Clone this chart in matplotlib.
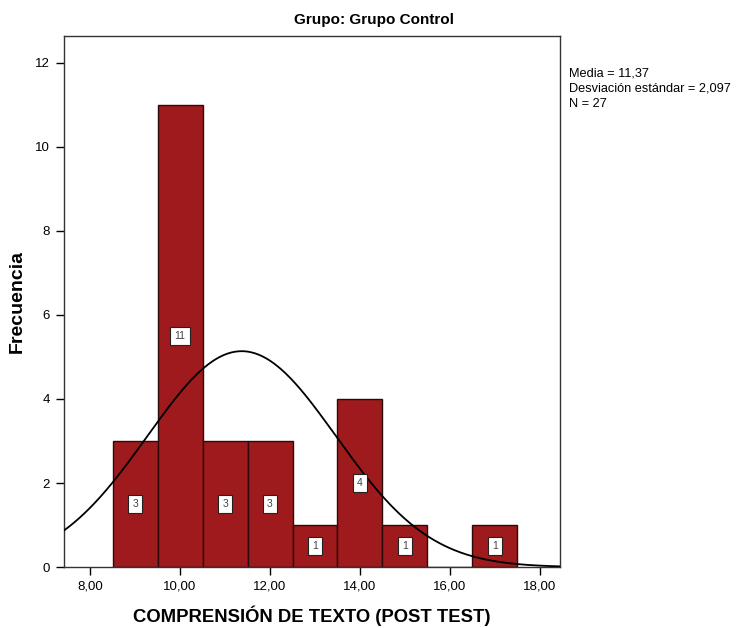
import numpy as np
import matplotlib
matplotlib.use("Agg")
import matplotlib.pyplot as plt

bin_centers = [9, 10, 11, 12, 13, 14, 15, 16, 17]
counts = [3, 11, 3, 3, 1, 4, 1, 0, 1]
mean = 11.37
sd = 2.097
n = 27
xticks = [8, 10, 12, 14, 16, 18]
xtick_labels = ["8,00", "10,00", "12,00", "14,00", "16,00", "18,00"]
yticks = [0, 2, 4, 6, 8, 10, 12]

font = "Liberation Sans"

fig = plt.figure(figsize=(7.36, 6.28), dpi=100)
ax = fig.add_axes([0.087, 0.097, 0.674, 0.846])

ax.bar(bin_centers, counts, width=1.0, color="#9E1A1C", edgecolor="#2a0a0a", linewidth=1.0, zorder=2)

xs = np.linspace(7.42, 18.45, 400)
ys = n * 1.0 * np.exp(-0.5 * ((xs - mean) / sd) ** 2) / (sd * np.sqrt(2 * np.pi))
ax.plot(xs, ys, color="black", linewidth=1.3, zorder=3)

for c, v in zip(bin_centers, counts):
    if v > 0:
        ax.text(c, v / 2, str(v), ha="center", va="center", fontsize=7.5, family=font,
                color="#444444", zorder=4,
                bbox=dict(boxstyle="square,pad=0.4", facecolor="white", edgecolor="#222222", linewidth=0.8))

ax.set_xlim(7.42, 18.45)
ax.set_ylim(0, 12.64)
ax.set_xticks(xticks)
ax.set_xticklabels(xtick_labels, family=font, fontsize=9.5)
ax.set_yticks(yticks)
ax.set_yticklabels([str(t) for t in yticks], family=font, fontsize=9.5)
ax.tick_params(direction="out", length=6, width=1, color="black", pad=4)
for s in ax.spines.values():
    s.set_linewidth(1.0)
    s.set_color("#333333")

fig.text(374 / 736, 1 - 20 / 628, "Grupo: Grupo Control", family=font, fontweight="bold",
         fontsize=11, ha="center", va="center")
ax.set_xlabel("COMPRENSIÓN DE TEXTO (POST TEST)", family=font, fontweight="bold", fontsize=13.3, labelpad=9)
ax.set_ylabel("Frecuencia", family=font, fontweight="bold", fontsize=14)
ax.yaxis.set_label_coords(-0.077, 0.5)

fig.text(0.773, 0.893, "Media = 11,37\nDesviación estándar = 2,097\nN = 27", family=font,
         fontsize=9.2, va="top", ha="left", linespacing=1.4)

fig.savefig("out.png", dpi=100)
